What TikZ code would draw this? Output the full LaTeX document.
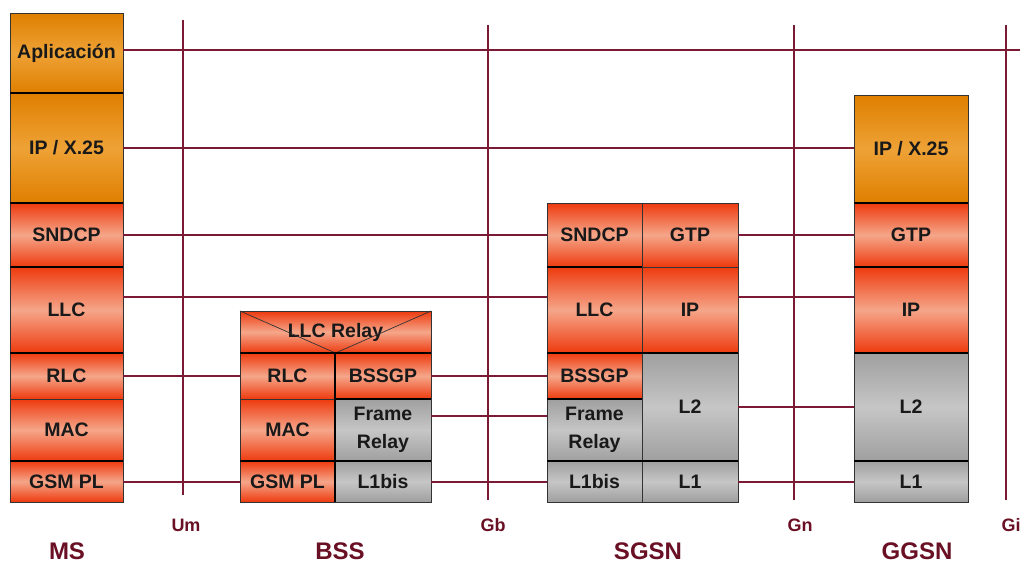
\documentclass[tikz,border=0pt]{standalone}
\usepackage{fontspec}
\setmainfont{Liberation Sans}
\usetikzlibrary{positioning}

\definecolor{wine}{HTML}{7A1A34}
\definecolor{labelWine}{HTML}{6A1024}
\definecolor{orangeDark}{HTML}{DF7F00}
\definecolor{orangeLight}{HTML}{EEA236}
\definecolor{redDark}{HTML}{EE3A0E}
\definecolor{redLight}{HTML}{F5A68A}
\definecolor{grayDark}{HTML}{9F9F9F}
\definecolor{grayLight}{HTML}{C6C6C6}

\begin{document}
\begin{tikzpicture}[x=1pt, y=-1pt, node distance=0pt]
	\tikzstyle{cell} = [rectangle, inner sep=0pt, outer sep=0pt, draw=black!80,
	line width=0.8pt, text=black!90, align=center,
	font=\fontsize{19.5}{28}\selectfont\bfseries]
	\tikzstyle{orangeCell} = [cell, top color=orangeDark, bottom color=orangeDark,
	middle color=orangeLight]
	\tikzstyle{redCell} = [cell, top color=redDark, bottom color=redDark,
	middle color=redLight]
	\tikzstyle{grayCell} = [cell, top color=grayDark, bottom color=grayDark,
	middle color=grayLight]
	\tikzstyle{sep} = [line width=2.2pt, black]
	\tikzstyle{link} = [line width=1.5pt, wine]
	\tikzstyle{iface} = [text=labelWine, font=\fontsize{18}{20}\selectfont\bfseries]
	\tikzstyle{entity} = [text=labelWine, font=\fontsize{24}{26}\selectfont\bfseries]
	\useasboundingbox (0,0) rectangle (1020,563);
	% interfaces
	\coordinate (umTop) at (183,20);
	\coordinate (umBot) at (183,495);
	\coordinate (gbTop) at (488,25);
	\coordinate (gbBot) at (488,500);
	\coordinate (gnTop) at (794,25);
	\coordinate (gnBot) at (794,500);
	\coordinate (giTop) at (1006,25);
	\coordinate (giBot) at (1006,500);
	\coordinate (rightEdge) at (1020,50);
	\draw [link] (umTop) -- (umBot);
	\draw [link] (gbTop) -- (gbBot);
	\draw [link] (gnTop) -- (gnBot);
	\draw [link] (giTop) -- (giBot);
	% MS
	\node (msApp) [orangeCell, anchor=north west, minimum width=113pt, minimum height=80pt] at (10,13) {Aplicación};
	\node (msIp) [orangeCell, below=of msApp, minimum width=113pt, minimum height=110pt] {IP / X.25};
	\node (msSndcp) [redCell, below=of msIp, minimum width=113pt, minimum height=64pt] {SNDCP};
	\node (msLlc) [redCell, below=of msSndcp, minimum width=113pt, minimum height=86pt] {LLC};
	\node (msRlc) [redCell, below=of msLlc, minimum width=113pt, minimum height=46pt] {RLC};
	\node (msMac) [redCell, below=of msRlc, minimum width=113pt, minimum height=62pt] {MAC};
	\node (msGsm) [redCell, below=of msMac, minimum width=113pt, minimum height=41pt] {GSM PL};
	% BSS
	\node (bssRelay) [redCell, anchor=north west, minimum width=191pt, minimum height=42pt] at (240,311) {LLC Relay};
	\node (bssRlc) [redCell, below right=0pt and 0pt of bssRelay.south west, minimum width=95pt, minimum height=46pt] {RLC};
	\node (bssMac) [redCell, below=of bssRlc, minimum width=95pt, minimum height=62pt] {MAC};
	\node (bssGsm) [redCell, below=of bssMac, minimum width=95pt, minimum height=41pt] {GSM PL};
	\node (bssBssgp) [redCell, right=of bssRlc, minimum width=96pt, minimum height=46pt] {BSSGP};
	\node (bssFr) [grayCell, below=of bssBssgp, minimum width=96pt, minimum height=62pt] {Frame\\Relay};
	\node (bssL1bis) [grayCell, below=of bssFr, minimum width=96pt, minimum height=41pt] {L1bis};
	\draw [black!80, line width=0.7pt] (bssRelay.north west) -- (bssRelay.south) -- (bssRelay.north east);
	% SGSN
	\node (sgsnSndcp) [redCell, anchor=north west, minimum width=95pt, minimum height=64pt] at (547,203) {SNDCP};
	\node (sgsnLlc) [redCell, below=of sgsnSndcp, minimum width=95pt, minimum height=86pt] {LLC};
	\node (sgsnBssgp) [redCell, below=of sgsnLlc, minimum width=95pt, minimum height=46pt] {BSSGP};
	\node (sgsnFr) [grayCell, below=of sgsnBssgp, minimum width=95pt, minimum height=62pt] {Frame\\Relay};
	\node (sgsnL1bis) [grayCell, below=of sgsnFr, minimum width=95pt, minimum height=41pt] {L1bis};
	\node (sgsnGtp) [redCell, right=of sgsnSndcp, minimum width=96pt, minimum height=64pt] {GTP};
	\node (sgsnIp) [redCell, below=of sgsnGtp, minimum width=96pt, minimum height=86pt] {IP};
	\node (sgsnL2) [grayCell, below=of sgsnIp, minimum width=96pt, minimum height=108pt] {L2};
	\node (sgsnL1) [grayCell, below=of sgsnL2, minimum width=96pt, minimum height=41pt] {L1};
	% GGSN
	\node (ggsnIpx) [orangeCell, anchor=north west, minimum width=114pt, minimum height=108pt] at (854,95) {IP / X.25};
	\node (ggsnGtp) [redCell, below=of ggsnIpx, minimum width=114pt, minimum height=64pt] {GTP};
	\node (ggsnIp) [redCell, below=of ggsnGtp, minimum width=114pt, minimum height=86pt] {IP};
	\node (ggsnL2) [grayCell, below=of ggsnIp, minimum width=114pt, minimum height=108pt] {L2};
	\node (ggsnL1) [grayCell, below=of ggsnL2, minimum width=114pt, minimum height=41pt] {L1};
	% thick layer borders
	\foreach \n in {msApp, msIp, msSndcp, msLlc, msMac, bssRelay, bssMac, bssBssgp,
		bssFr, sgsnSndcp, sgsnLlc, sgsnBssgp, sgsnFr, sgsnIp, sgsnL2, ggsnIpx, ggsnGtp,
		ggsnIp, ggsnL2}
		\draw [sep] (\n.south west) -- (\n.south east);
	\draw [sep] (bssRlc.north east) -- (bssGsm.south east);
	% peer links
	\draw [link] ([yshift=3pt]msApp.east) -- ([yshift=3pt]msApp.east -| rightEdge);
	\draw [link] (msIp.east) -- (msIp.east -| ggsnIpx.west);
	\draw [link] (msSndcp.east) -- (sgsnSndcp.west);
	\draw [link] (sgsnGtp.east) -- (ggsnGtp.west);
	\draw [link] ([yshift=13pt]msLlc.east) -- ([yshift=13pt]sgsnLlc.west);
	\draw [link] ([yshift=13pt]sgsnIp.east) -- ([yshift=13pt]ggsnIp.west);
	\draw [link] (msRlc.east) -- (bssRlc.west);
	\draw [link] (bssBssgp.east) -- (sgsnBssgp.west);
	\draw [link] ([yshift=14pt]bssFr.east) -- ([yshift=14pt]sgsnFr.west);
	\draw [link] (sgsnL2.east) -- (ggsnL2.west);
	\draw [link] ([yshift=-0.5pt]msGsm.east) -- ([yshift=-0.5pt]bssGsm.west);
	\draw [link] ([yshift=-0.5pt]bssL1bis.east) -- ([yshift=-0.5pt]sgsnL1bis.west);
	\draw [link] ([yshift=-0.5pt]sgsnL1.east) -- ([yshift=-0.5pt]ggsnL1.west);
	% labels
	\node (umLabel) [iface] at (186,525) {Um};
	\node (gbLabel) [iface] at (493,525) {Gb};
	\node (gnLabel) [iface] at (800,525) {Gn};
	\node (giLabel) [iface] at (1011,525) {Gi};
	\node (msLabel) [entity] at (67,551) {MS};
	\node (bssLabel) [entity] at (340,551) {BSS};
	\node (sgsnLabel) [entity] at (648,551) {SGSN};
	\node (ggsnLabel) [entity] at (917,551) {GGSN};
\end{tikzpicture}
\end{document}
